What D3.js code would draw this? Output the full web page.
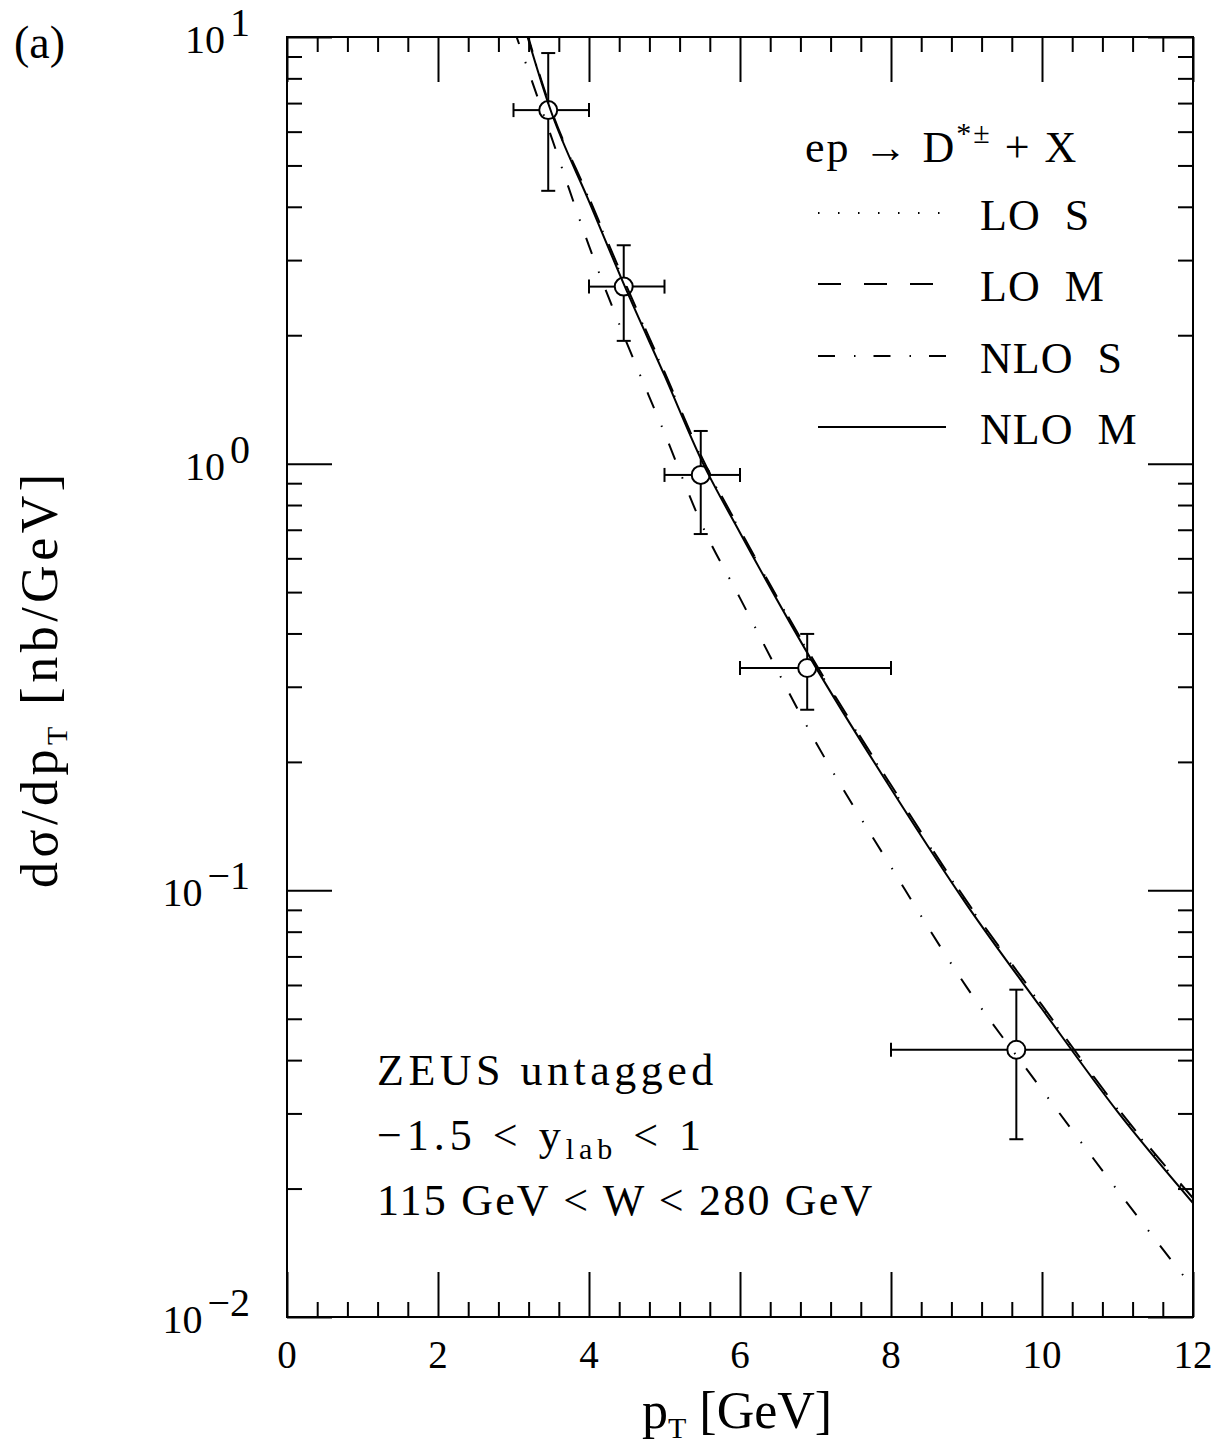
<!DOCTYPE html>
<html>
<head>
<meta charset="utf-8">
<script src="https://cdn.jsdelivr.net/npm/d3@7"></script>
<style>
  body { margin: 0; background: #fff; }
  text { font-family: "Liberation Serif", "DejaVu Serif", serif; fill: #000; }
</style>
</head>
<body>
<svg id="chart" width="1231" height="1445"></svg>
<script>
// theory curves
const pT   = [3.0, 3.5, 4, 4.5, 5, 5.5, 6, 7, 8, 9, 10, 11, 12];
const loS  = [13.1, 6.70, 4.17, 2.58, 1.63, 1.02, 0.697, 0.338, 0.1755, 0.0940, 0.0535, 0.0307, 0.0188];
const loM  = [13.2, 6.75, 4.20, 2.60, 1.64, 1.03, 0.700, 0.340, 0.1765, 0.0945, 0.0538, 0.0309, 0.0190];
const nloS = [10.5, 5.84, 3.24, 1.92, 1.18, 0.716, 0.484, 0.223, 0.1135, 0.0594, 0.0341, 0.0198, 0.0117];
const nloM = [13.0, 6.67, 4.12, 2.54, 1.61, 1.01, 0.689, 0.334, 0.173, 0.0927, 0.0527, 0.0303, 0.0185];

// ZEUS data points
const dataX   = [3.46, 4.46, 5.48, 6.89, 9.66];
const dataXlo = [3, 4, 5, 6, 8];
const dataXhi = [4, 5, 6, 8, 12];
const dataY   = [6.74, 2.60, 0.941, 0.332, 0.0423];
const dataYlo = [4.36, 1.94, 0.684, 0.265, 0.0261];
const dataYhi = [9.17, 3.25, 1.193, 0.399, 0.0585];

const xTicks = [0, 2, 4, 6, 8, 10, 12];
const yExps = [-2, -1, 0, 1];

const L = 287, R = 1193, T = 37, B = 1317;
const svg = d3.select("#chart");

const x = d3.scaleLinear().domain([0, 12]).range([L, R]);
const y = d3.scaleLog().domain([0.01, 10]).range([B, T]);

const xMinor = d3.range(0, 31).filter(i => i % 5 != 0).map(i => i * 0.4);
const yMinor = [];
[-2, -1, 0].forEach(e => { for (let m = 2; m <= 9; m++) yMinor.push(m * Math.pow(10, e)); });
const yMajor = yExps.map(e => Math.pow(10, e));

function ticks(axis, tr, vals, len) {
  let g = svg.append("g").attr("transform", tr)
    .call(axis.tickValues(vals).tickSize(-len).tickFormat(""));
  g.select(".domain").remove();
  g.selectAll("line").attr("stroke", "#000").attr("stroke-width", 2);
}
ticks(d3.axisBottom(x), `translate(0,${B})`, xTicks, 45);
ticks(d3.axisBottom(x), `translate(0,${B})`, xMinor, 15);
ticks(d3.axisTop(x), `translate(0,${T})`, xTicks, 45);
ticks(d3.axisTop(x), `translate(0,${T})`, xMinor, 15);
ticks(d3.axisLeft(y), `translate(${L},0)`, yMajor, 45);
ticks(d3.axisLeft(y), `translate(${L},0)`, yMinor, 15);
ticks(d3.axisRight(y), `translate(${R},0)`, yMajor, 45);
ticks(d3.axisRight(y), `translate(${R},0)`, yMinor, 15);

svg.append("rect").attr("x", L).attr("y", T)
  .attr("width", R - L).attr("height", B - T)
  .attr("fill", "none").attr("stroke", "#000").attr("stroke-width", 2);

// tick labels
svg.selectAll(".xl").data(xTicks).enter().append("text")
  .attr("x", d => x(d)).attr("y", B + 51)
  .attr("text-anchor", "middle").attr("font-size", 39).text(d => d);

yExps.forEach(e => {
  let t = svg.append("text").attr("x", 250).attr("y", y(Math.pow(10, e)) + 16)
    .attr("text-anchor", "end").attr("font-size", 40);
  t.append("tspan").text("10");
  t.append("tspan").attr("dx", 5).attr("dy", -17).text(e < 0 ? "\u2212" + (-e) : e);
});

// axis titles
let xt = svg.append("text").attr("x", 642).attr("y", 1428).attr("font-size", 52);
xt.append("tspan").text("p");
xt.append("tspan").attr("font-size", 30).attr("dy", 10).text("T");
xt.append("tspan").attr("dy", -10).text(" [GeV]");

let yt = svg.append("text").attr("transform", "translate(57,888) rotate(-90)")
  .attr("font-size", 52).attr("letter-spacing", 4.5);
yt.append("tspan").text("d\u03C3/dp");
yt.append("tspan").attr("font-size", 30).attr("dy", 10).text("T");
yt.append("tspan").attr("dy", -10).text(" [nb/GeV]");

svg.append("text").attr("x", 14).attr("y", 58).attr("font-size", 46).text("(a)");

// curves
svg.append("clipPath").attr("id", "clip").append("rect")
  .attr("x", L).attr("y", T).attr("width", R - L).attr("height", B - T);

const line = d3.line().x((d, i) => x(pT[i])).y(d => y(d)).curve(d3.curveMonotoneX);
const series = [
  {vals: loS,  dash: "1.5,18.5"},
  {vals: loM,  dash: "23,23"},
  {vals: nloS, dash: "17,19,1.5,18"},
  {vals: nloM, dash: null}
];
const cg = svg.append("g").attr("clip-path", "url(#clip)");
cg.selectAll("path").data(series).enter().append("path")
  .attr("d", d => line(d.vals)).attr("fill", "none").attr("stroke", "#000")
  .attr("stroke-width", 2).attr("stroke-dasharray", d => d.dash);

// data points with error bars
const r = 9;
const pg = svg.append("g").attr("stroke", "#000").attr("stroke-width", 2).attr("fill", "none");
dataX.forEach((px, i) => {
  let cx = x(px), cy = y(dataY[i]);
  let segs = [
    [cx, y(dataYhi[i]), cx, cy - r], [cx, cy + r, cx, y(dataYlo[i])],
    [x(dataXlo[i]), cy, cx - r, cy], [cx + r, cy, x(dataXhi[i]), cy],
    [cx - 7, y(dataYhi[i]), cx + 7, y(dataYhi[i])], [cx - 7, y(dataYlo[i]), cx + 7, y(dataYlo[i])],
    [x(dataXlo[i]), cy - 7, x(dataXlo[i]), cy + 7], [x(dataXhi[i]), cy - 7, x(dataXhi[i]), cy + 7]
  ];
  segs.forEach(s => pg.append("line").attr("x1", s[0]).attr("y1", s[1]).attr("x2", s[2]).attr("y2", s[3]));
  pg.append("circle").attr("cx", cx).attr("cy", cy).attr("r", r);
});

// legend
let lt = svg.append("text").attr("x", 805).attr("y", 162).attr("font-size", 44).attr("letter-spacing", 2);
lt.append("tspan").text("ep \u2192 D");
lt.append("tspan").attr("font-size", 30).attr("dy", -19).text("*\u00B1");
lt.append("tspan").attr("dy", 19).text(" + X");

const legNames = ["LO S", "LO M", "NLO S", "NLO M"];
const legY = [213, 284, 356, 427];
series.forEach((s, i) => {
  svg.append("line").attr("x1", 818).attr("x2", 946).attr("y1", legY[i]).attr("y2", legY[i])
    .attr("stroke", "#000").attr("stroke-width", 2).attr("stroke-dasharray", s.dash);
  svg.append("text").attr("x", 980).attr("y", legY[i] + 17).attr("font-size", 44)
    .attr("letter-spacing", 1).attr("word-spacing", 12).text(legNames[i]);
});

// annotation
svg.append("text").attr("x", 377).attr("y", 1085).attr("font-size", 44)
  .attr("letter-spacing", 4.5).text("ZEUS untagged");
let a2 = svg.append("text").attr("x", 377).attr("y", 1150).attr("font-size", 44).attr("letter-spacing", 5);
a2.append("tspan").text("\u22121.5 < y");
a2.append("tspan").attr("font-size", 30).attr("dy", 9).text("lab");
a2.append("tspan").attr("dy", -9).text(" < 1");
svg.append("text").attr("x", 377).attr("y", 1215).attr("font-size", 44)
  .attr("letter-spacing", 2.2).text("115 GeV < W < 280 GeV");
</script>
</body>
</html>
